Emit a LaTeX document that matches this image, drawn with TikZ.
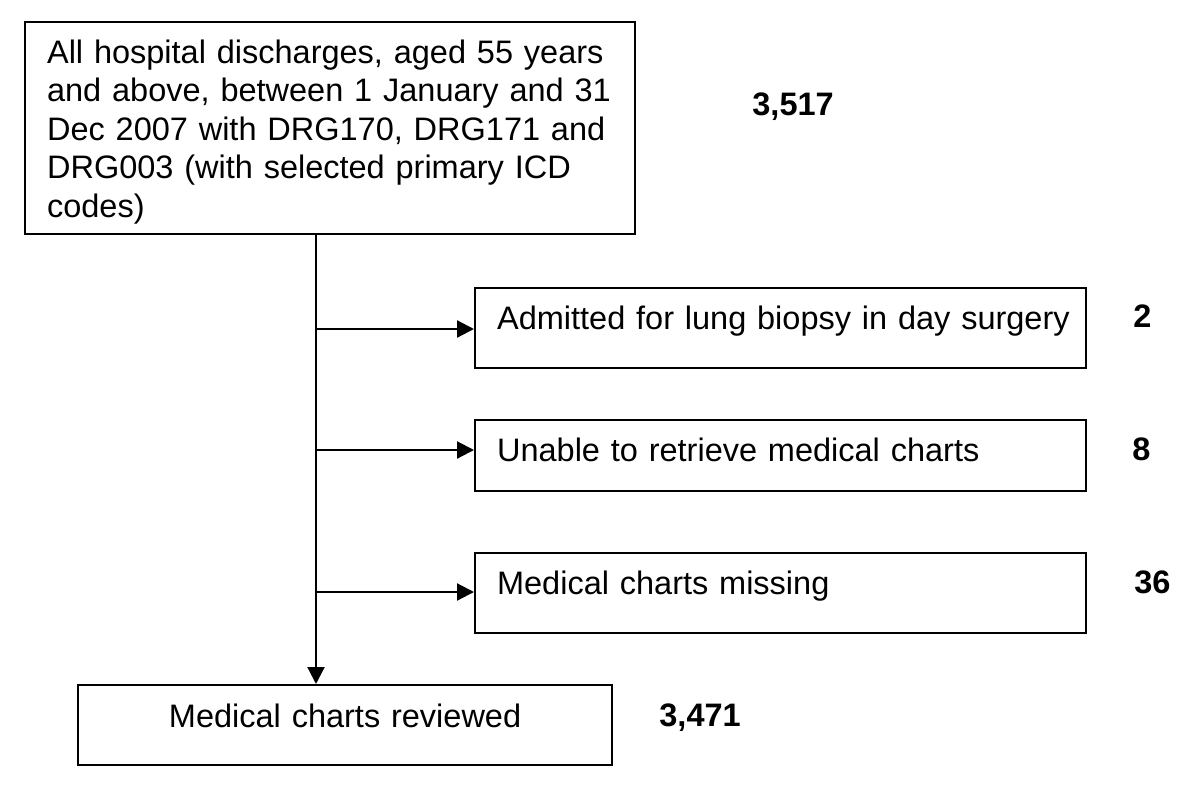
\documentclass[tikz,border=0pt]{standalone}
\usepackage{fontspec}
\setmainfont{Liberation Sans}
\usetikzlibrary{positioning, arrows.meta, calc}

\tikzset{
    flowbox/.style={draw, line width=1.1pt, inner ysep=0pt, align=left,
        font=\fontsize{16.25}{19.25}\selectfont},
    exclbox/.style={flowbox, anchor=north west, inner xsep=11pt, text width=283.5pt,
        text height=20.75pt, text depth=#1},
    count/.style={anchor=base west, inner sep=0pt, font=\fontsize{16.25}{19.25}\selectfont\bfseries},
    arr/.style={-{Triangle[length=8.5pt, width=8.5pt]}, line width=1.1pt}
}

\begin{document}
\begin{tikzpicture}[x=0.5pt, y=-0.5pt]
    \useasboundingbox (0,0) rectangle (1200,798);
    % source population
    \node[flowbox, anchor=north west, inner xsep=11pt, text width=283pt,
        text height=20.5pt, text depth=85.5pt] (all) at (24,21)
        {All hospital discharges, aged 55 years\\
         and above, between 1 January and 31\\
         Dec 2007 with DRG170, DRG171 and\\
         DRG003 (with selected primary ICD\\
         codes)};
    \node[count] (nall) at (752,115) {3,517};

    % exclusions
    \node[exclbox=19.25pt] (lung) at (474,287) {\mbox{Admitted for lung biopsy in day surgery}};
    \node[exclbox=14.75pt] (retr) at (474,419) {Unable to retrieve medical charts};
    \node[exclbox=19.25pt] (miss) at (474,552) {Medical charts missing};
    \node[count] (nlung) at (1133,327) {2};
    \node[count] (nretr) at (1132,460) {8};
    \node[count] (nmiss) at (1134,593) {36};

    % charts reviewed
    \node[flowbox, anchor=north west, inner xsep=0pt, text width=267pt, align=center,
        text height=21pt, text depth=19pt] (rev) at (77,684) {Medical charts reviewed};
    \node[count] (nrev) at (659,726) {3,471};

    % trunk and branches
    \coordinate (j1) at (316,329);
    \coordinate (j2) at (316,450);
    \coordinate (j3) at (316,592);
    \draw[arr] (all.south -| j1) -- (rev.north -| j1);
    \draw[arr] (j1) -- (j1 -| lung.west);
    \draw[arr] (j2) -- (j2 -| retr.west);
    \draw[arr] (j3) -- (j3 -| miss.west);
\end{tikzpicture}
\end{document}
